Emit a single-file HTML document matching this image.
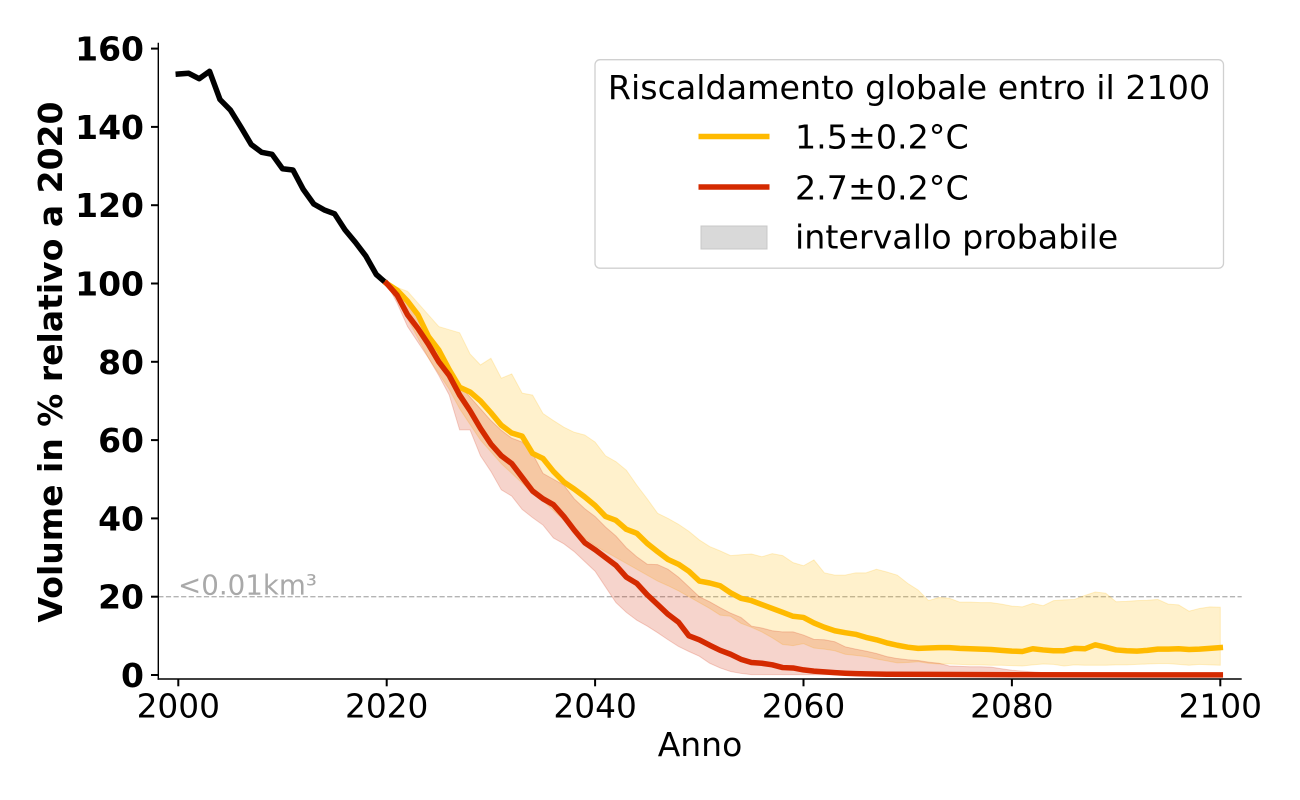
<!DOCTYPE html>
<html>
<head>
<meta charset="utf-8">
<style>
  html, body { margin:0; padding:0; background:#ffffff; }
  body { width:1300px; height:800px; overflow:hidden; position:relative; }
  svg { position:absolute; left:0; top:0; }
  text { font-family: "DejaVu Sans", "Liberation Sans", sans-serif; }
</style>
</head>
<body>
<svg width="1300" height="800" viewBox="0 0 1300 800" xmlns="http://www.w3.org/2000/svg">
  <rect x="0" y="0" width="1300" height="800" fill="#ffffff"/>

  <!-- dashed threshold line -->
  <line x1="158.3" y1="596.7" x2="1241.7" y2="596.7" stroke="#b4b4b4" stroke-width="1.3" stroke-dasharray="5.2 2.4"/>
  <text x="178" y="594.5" font-size="27.7" fill="#a9a9a9">&lt;0.01km³</text>

  <!-- data group: x = year-2000, y = value -->
  <g transform="matrix(10.42 0 0 -3.915 178.3 675)">
    <!-- yellow band -->
    <polygon fill="#ffba00" fill-opacity="0.2" stroke="#ffba00" stroke-opacity="0.2" stroke-width="1" vector-effect="non-scaling-stroke"
      points="20,100 21,99 22,98 23,95 24,92 25,89 26,88.2 27,87.4 28,82 29,79.2 30,80.9 31,75.8 32,76.9 33,72 34,71.5 35,66.8 36,65 37,63.3 38,62 39,61.3 40,59.5 41,56 42,54.5 43,52.3 44,48.5 45,45 46,41.3 47,40 48,38.5 49,36.7 50,34.5 51,32.8 52,31.7 53,30.5 54,30.7 55,30.9 56,30.2 57,31 58,30.5 59,28.7 60,27.9 61,29.4 62,26.1 63,25.5 64,25.5 65,26.1 66,26.1 67,27 68,26.3 69,25.5 70,23.4 71,21.7 72,19 73,19.8 74,19.6 75,18.6 76,18.6 77,18.5 78,18.5 79,18.1 80,17.6 81,17.4 82,18.3 83,17.7 84,19 85,19.2 86,19.3 87,20.3 88,21.2 89,20.9 90,18.7 91,18.8 92,19 93,19.1 94,19.3 95,18.1 96,17.9 97,16.3 98,17 99,17.4 100,17.3
      100,2.5 99,2.6 98,2.7 97,2.5 96,2.7 95,2.9 94,2.9 93,2.8 92,2.7 91,2.6 90,2.6 89,2.5 88,2.5 87,2.5 86,2.6 85,2.3 84,2.7 83,2.8 82,2.6 81,2.3 80,2.4 79,2.5 78,2.5 77,2.6 76,2.6 75,2.7 74,2.8 73,2.8 72,3 71,3.4 70,3.2 69,3.1 68,3.6 67,4.1 66,4.7 65,5 64,5.3 63,6.2 62,6.6 61,6.9 60,8 59,7.5 58,7.8 57,9.5 56,11 55,12.2 54,13.2 53,15 52,15.3 51,17 50,18.5 49,20 48,21.5 47,22.8 46,24 45,25.5 44,27 43,28.5 42,30 41,31.5 40,33 39,35 38,37 37,39.5 36,42 35,44.5 34,46.5 33,49 32,51.5 31,54 30,57 29,60 28,64 27,68 26,73 25,77 24,81 23,86 22,91 21,96 20,100"/>
    <!-- red band -->
    <polygon fill="#d42a00" fill-opacity="0.2" stroke="#d42a00" stroke-opacity="0.2" stroke-width="1" vector-effect="non-scaling-stroke"
      points="20,100 21,98 22,95 23,91.5 24,87 25,83 26,78 27,74 28,71 29,68 30,65 31,62.5 32,60.5 33,59.5 34,56.5 35,51.5 36,50 37,48.5 38,45 39,42.5 40,40.5 41,37.8 42,35.5 43,32.5 44,30.2 45,28.3 46,28.2 47,27 48,25 49,22.5 50,20 51,18.7 52,17.2 53,15.8 54,14.7 55,12.5 56,12 57,11.3 58,11 59,11 60,10.2 61,9.1 62,9 63,8.5 64,7.2 65,6.6 66,6.1 67,5.5 68,4.7 69,4.2 70,3.9 71,3.7 72,3.3 73,3 74,2.3 75,2.2 76,2.1 77,2.1 78,2 79,1.6 80,1.2 81,1 82,0.8 83,0.6 84,0.4 85,0.3 86,0.2 87,0.1 100,0.05
      100,0 55,0.1 54,0.4 53,0.9 52,1.8 51,3 50,4.8 49,6 48,7.3 47,9 46,10.8 45,12.5 44,14 43,16 42,18.5 41,22.5 40,26.5 39,29 38,31.5 37,33.5 36,35 35,38.3 34,40.2 33,42.3 32,45.7 31,47.3 30,52 29,56 28,62.6 27,62.6 26,71.5 25,76.5 24,81 23,85 22,89 21,95 20,100"/>

    <!-- black historical line -->
    <polyline fill="none" stroke="#000000" stroke-width="5.5" stroke-linejoin="round" stroke-linecap="square" vector-effect="non-scaling-stroke"
      points="0,153.5 1,153.7 2,152.3 3,154.2 4,147 5,144.3 6,140 7,135.5 8,133.5 9,133 10,129.3 11,129 12,124 13,120.3 14,118.8 15,117.8 16,113.7 17,110.5 18,107 19,102.3 20,100"/>
    <!-- yellow median -->
    <polyline fill="none" stroke="#ffba00" stroke-width="5.5" stroke-linejoin="round" stroke-linecap="square" vector-effect="non-scaling-stroke"
      points="20,100 21,98.3 22,95.5 23,92 24,86.5 25,83 26,78 27,73.5 28,72.3 29,70 30,67 31,63.8 32,61.8 33,61 34,56.6 35,55.3 36,52 37,49.3 38,47.5 39,45.5 40,43.3 41,40.5 42,39.5 43,37.2 44,36.2 45,33.6 46,31.5 47,29.5 48,28.3 49,26.5 50,24 51,23.5 52,22.8 53,21 54,19.6 55,19 56,18 57,17 58,16 59,15 60,14.7 61,13.3 62,12.2 63,11.3 64,10.8 65,10.4 66,9.6 67,9 68,8.2 69,7.6 70,7.1 71,6.8 72,6.9 73,7 74,7 75,6.8 76,6.7 77,6.6 78,6.5 79,6.3 80,6.1 81,6 82,6.7 83,6.4 84,6.2 85,6.2 86,6.8 87,6.7 88,7.7 89,7.1 90,6.4 91,6.2 92,6.1 93,6.3 94,6.6 95,6.6 96,6.7 97,6.5 98,6.6 99,6.8 100,7"/>
    <!-- red median -->
    <polyline fill="none" stroke="#d42a00" stroke-width="5.5" stroke-linejoin="round" stroke-linecap="square" vector-effect="non-scaling-stroke"
      points="20,100 21,97 22,92 23,88.5 24,84.5 25,80 26,76.5 27,71.5 28,67.5 29,63 30,59 31,56 32,54 33,50.5 34,47 35,45 36,43.5 37,40.5 38,37 39,33.8 40,32 41,30 42,28 43,25 44,23.4 45,20.5 46,18 47,15.5 48,13.5 49,10 50,9 51,7.6 52,6.3 53,5.3 54,4 55,3.2 56,3 57,2.6 58,1.9 59,1.8 60,1.3 61,1 62,0.8 63,0.6 64,0.45 65,0.35 66,0.3 68,0.2 72,0.15 80,0.05 100,0.02"/>
  </g>

  <!-- spines -->
  <line x1="158.3" y1="42.7" x2="158.3" y2="679.7" stroke="#000" stroke-width="1.4"/>
  <line x1="157.6" y1="679" x2="1241.7" y2="679" stroke="#000" stroke-width="1.4"/>

  <!-- y ticks -->
  <g stroke="#000" stroke-width="2">
    <line x1="151" y1="675" x2="158.3" y2="675"/>
    <line x1="151" y1="596.7" x2="158.3" y2="596.7"/>
    <line x1="151" y1="518.4" x2="158.3" y2="518.4"/>
    <line x1="151" y1="440.1" x2="158.3" y2="440.1"/>
    <line x1="151" y1="361.8" x2="158.3" y2="361.8"/>
    <line x1="151" y1="283.5" x2="158.3" y2="283.5"/>
    <line x1="151" y1="205.2" x2="158.3" y2="205.2"/>
    <line x1="151" y1="126.9" x2="158.3" y2="126.9"/>
    <line x1="151" y1="48.6" x2="158.3" y2="48.6"/>
  </g>
  <g font-size="33" font-weight="bold" text-anchor="end" fill="#000">
    <text x="144" y="687">0</text>
    <text x="144" y="608.7">20</text>
    <text x="144" y="530.4">40</text>
    <text x="144" y="452.1">60</text>
    <text x="144" y="373.8">80</text>
    <text x="144" y="295.5">100</text>
    <text x="144" y="217.2">120</text>
    <text x="144" y="138.9">140</text>
    <text x="144" y="60.6">160</text>
  </g>

  <!-- x ticks -->
  <g stroke="#000" stroke-width="2">
    <line x1="178.3" y1="679" x2="178.3" y2="686.3"/>
    <line x1="386.7" y1="679" x2="386.7" y2="686.3"/>
    <line x1="595.1" y1="679" x2="595.1" y2="686.3"/>
    <line x1="803.5" y1="679" x2="803.5" y2="686.3"/>
    <line x1="1011.9" y1="679" x2="1011.9" y2="686.3"/>
    <line x1="1220.3" y1="679" x2="1220.3" y2="686.3"/>
  </g>
  <g font-size="32.8" text-anchor="middle" fill="#000">
    <text x="178.3" y="717.5">2000</text>
    <text x="386.7" y="717.5">2020</text>
    <text x="595.1" y="717.5">2040</text>
    <text x="803.5" y="717.5">2060</text>
    <text x="1011.9" y="717.5">2080</text>
    <text x="1220.3" y="717.5">2100</text>
  </g>

  <!-- axis labels -->
  <text x="700" y="756" font-size="33" text-anchor="middle" fill="#000">Anno</text>
  <text transform="translate(62,362) rotate(-90)" font-size="33" font-weight="bold" text-anchor="middle" fill="#000">Volume in % relativo a 2020</text>

  <!-- legend -->
  <rect x="595" y="59.7" width="628.5" height="208.5" rx="5" ry="5" fill="#ffffff" fill-opacity="0.8" stroke="#d0d0d0" stroke-width="1.3"/>
  <text x="909" y="99" font-size="33.3" text-anchor="middle" fill="#000">Riscaldamento globale entro il 2100</text>
  <line x1="698.5" y1="136.5" x2="769.5" y2="136.5" stroke="#ffba00" stroke-width="5.5"/>
  <text x="795" y="148.5" font-size="33.3" fill="#000">1.5±0.2°C</text>
  <line x1="698.5" y1="187" x2="769.5" y2="187" stroke="#d42a00" stroke-width="5.5"/>
  <text x="795" y="199.5" font-size="33.3" fill="#000">2.7±0.2°C</text>
  <rect x="701" y="226" width="66" height="23" fill="#d9d9d9" stroke="#c8c8c8" stroke-width="1"/>
  <text x="795" y="248.5" font-size="33.3" fill="#000">intervallo probabile</text>
</svg>
</body>
</html>
